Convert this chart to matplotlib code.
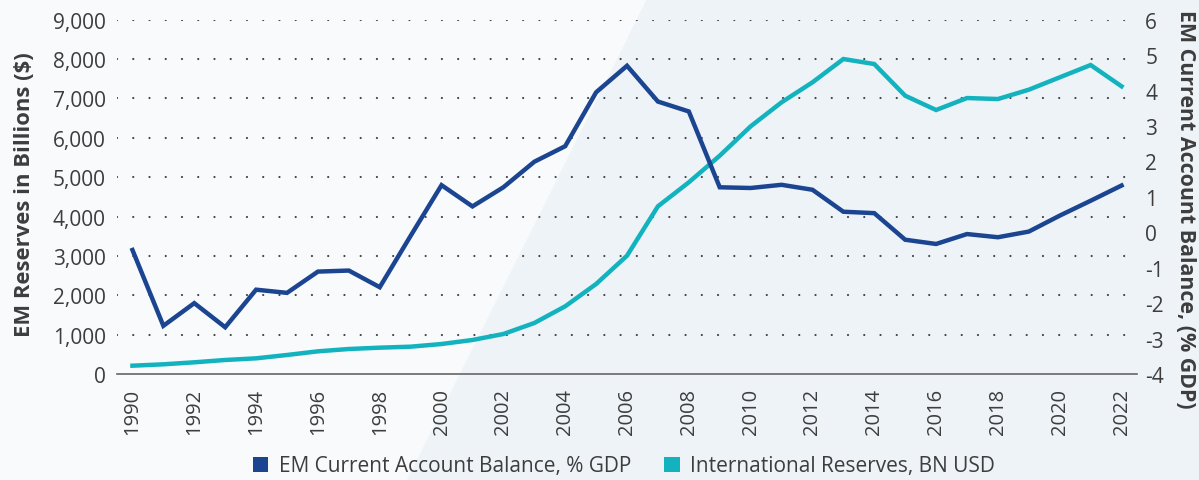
import matplotlib
matplotlib.use("Agg")
import matplotlib.pyplot as plt
from matplotlib.patches import Polygon, Patch
from matplotlib.ticker import FuncFormatter

plt.rcParams['font.family'] = ['Open Sans', 'DejaVu Sans']

years = list(range(1990, 2023))

# EM current account balance, % of GDP (right axis)
current_account = [-0.5, -2.64, -2.0, -2.68, -1.62, -1.71, -1.11, -1.08, -1.55, -0.1,
                   1.33, 0.73, 1.27, 1.99, 2.43, 3.95, 4.70, 3.69, 3.41, 1.27,
                   1.25, 1.34, 1.20, 0.58, 0.54, -0.21, -0.33, -0.05, -0.14, 0.02,
                   0.47, 0.89, 1.32]

# International reserves, BN USD (left axis)
reserves = [211, 246, 297, 356, 398, 483, 576, 635, 669, 694,
            762, 864, 1016, 1295, 1719, 2286, 3005, 4259, 4869, 5545,
            6291, 6901, 7409, 8001, 7874, 7069, 6706, 7010, 6985, 7222,
            7536, 7849, 7308]

left_ticks = list(range(0, 10000, 1000))
right_ticks = list(range(-4, 7))
x_ticks = list(range(1990, 2023, 2))

navy = '#1b4591'
teal = '#12b3bf'
text_col = '#3d3d3d'

W, H = 1199, 481
fig = plt.figure(figsize=(W / 100, H / 100), dpi=100)
fig.patch.set_facecolor('#f8fafb')

# diagonal light band in the background
band = [(647, 0), (W, 0), (W, H), (407, H)]
fig.patches.append(Polygon([(x / W, 1 - y / H) for x, y in band], closed=True,
                           transform=fig.transFigure, facecolor='#eef3f7',
                           edgecolor='none', zorder=-5))

ax = fig.add_axes([117 / W, 1 - 375 / H, (1137 - 117) / W, (375 - 20.7) / H])
ax.set_facecolor('none')
ax2 = ax.twinx()
ax2.set_facecolor('none')

ax.plot(years, reserves, color=teal, lw=3.2, solid_joinstyle='miter', zorder=3)
ax2.plot(years, current_account, color=navy, lw=3.2, solid_joinstyle='miter', zorder=3)

ax.set_xlim(1989.5, 2022.5)
ax.set_ylim(0, 9000)
ax2.set_ylim(-4, 6)
ax.set_yticks(left_ticks)
ax2.set_yticks(right_ticks)
ax.set_xticks(x_ticks)
ax.yaxis.set_major_formatter(FuncFormatter(lambda v, p: f"{int(v):,}"))
ax2.yaxis.set_major_formatter(FuncFormatter(lambda v, p: f"{int(v)}"))

for a in (ax, ax2):
    for s in a.spines.values():
        s.set_visible(False)
    a.tick_params(length=0, labelsize=15, labelcolor=text_col)
ax.spines['bottom'].set_visible(True)
ax.spines['bottom'].set_color('#666666')
ax.spines['bottom'].set_linewidth(1.2)
ax.tick_params(axis='x', labelrotation=90, pad=10, labelsize=14.5)
ax.tick_params(axis='y', pad=8)
ax2.tick_params(axis='y', pad=6)

ax.yaxis.grid(True, color='#444444', linewidth=1.6, dashes=(0.01, 7.3),
              dash_capstyle='round')
ax.set_axisbelow(True)
for gl in ax.get_ygridlines()[:1]:
    gl.set_visible(False)

fig.text(25 / W, 1 - 195 / H, 'EM Reserves in Billions ($)', fontsize=15.8, fontweight='bold',
         color=text_col, rotation=90, ha='center', va='center')
fig.text(1186 / W, 1 - 209 / H, 'EM Current Account Balance, (% GDP)', fontsize=15.4,
         fontweight='bold', color=text_col, rotation=270, ha='center', va='center')

handles = [Patch(facecolor=navy, edgecolor='none'), Patch(facecolor=teal, edgecolor='none')]
labels = ['EM Current Account Balance, % GDP', 'International Reserves, BN USD']
fig.legend(handles, labels, loc='center', bbox_to_anchor=(624 / W, 1 - 467 / H),
           ncol=2, frameon=False, fontsize=15, handlelength=0.75, handleheight=0.75,
           handletextpad=0.5, columnspacing=1.6, labelcolor=text_col)

fig.savefig('out.png', dpi=100, facecolor=fig.get_facecolor())
